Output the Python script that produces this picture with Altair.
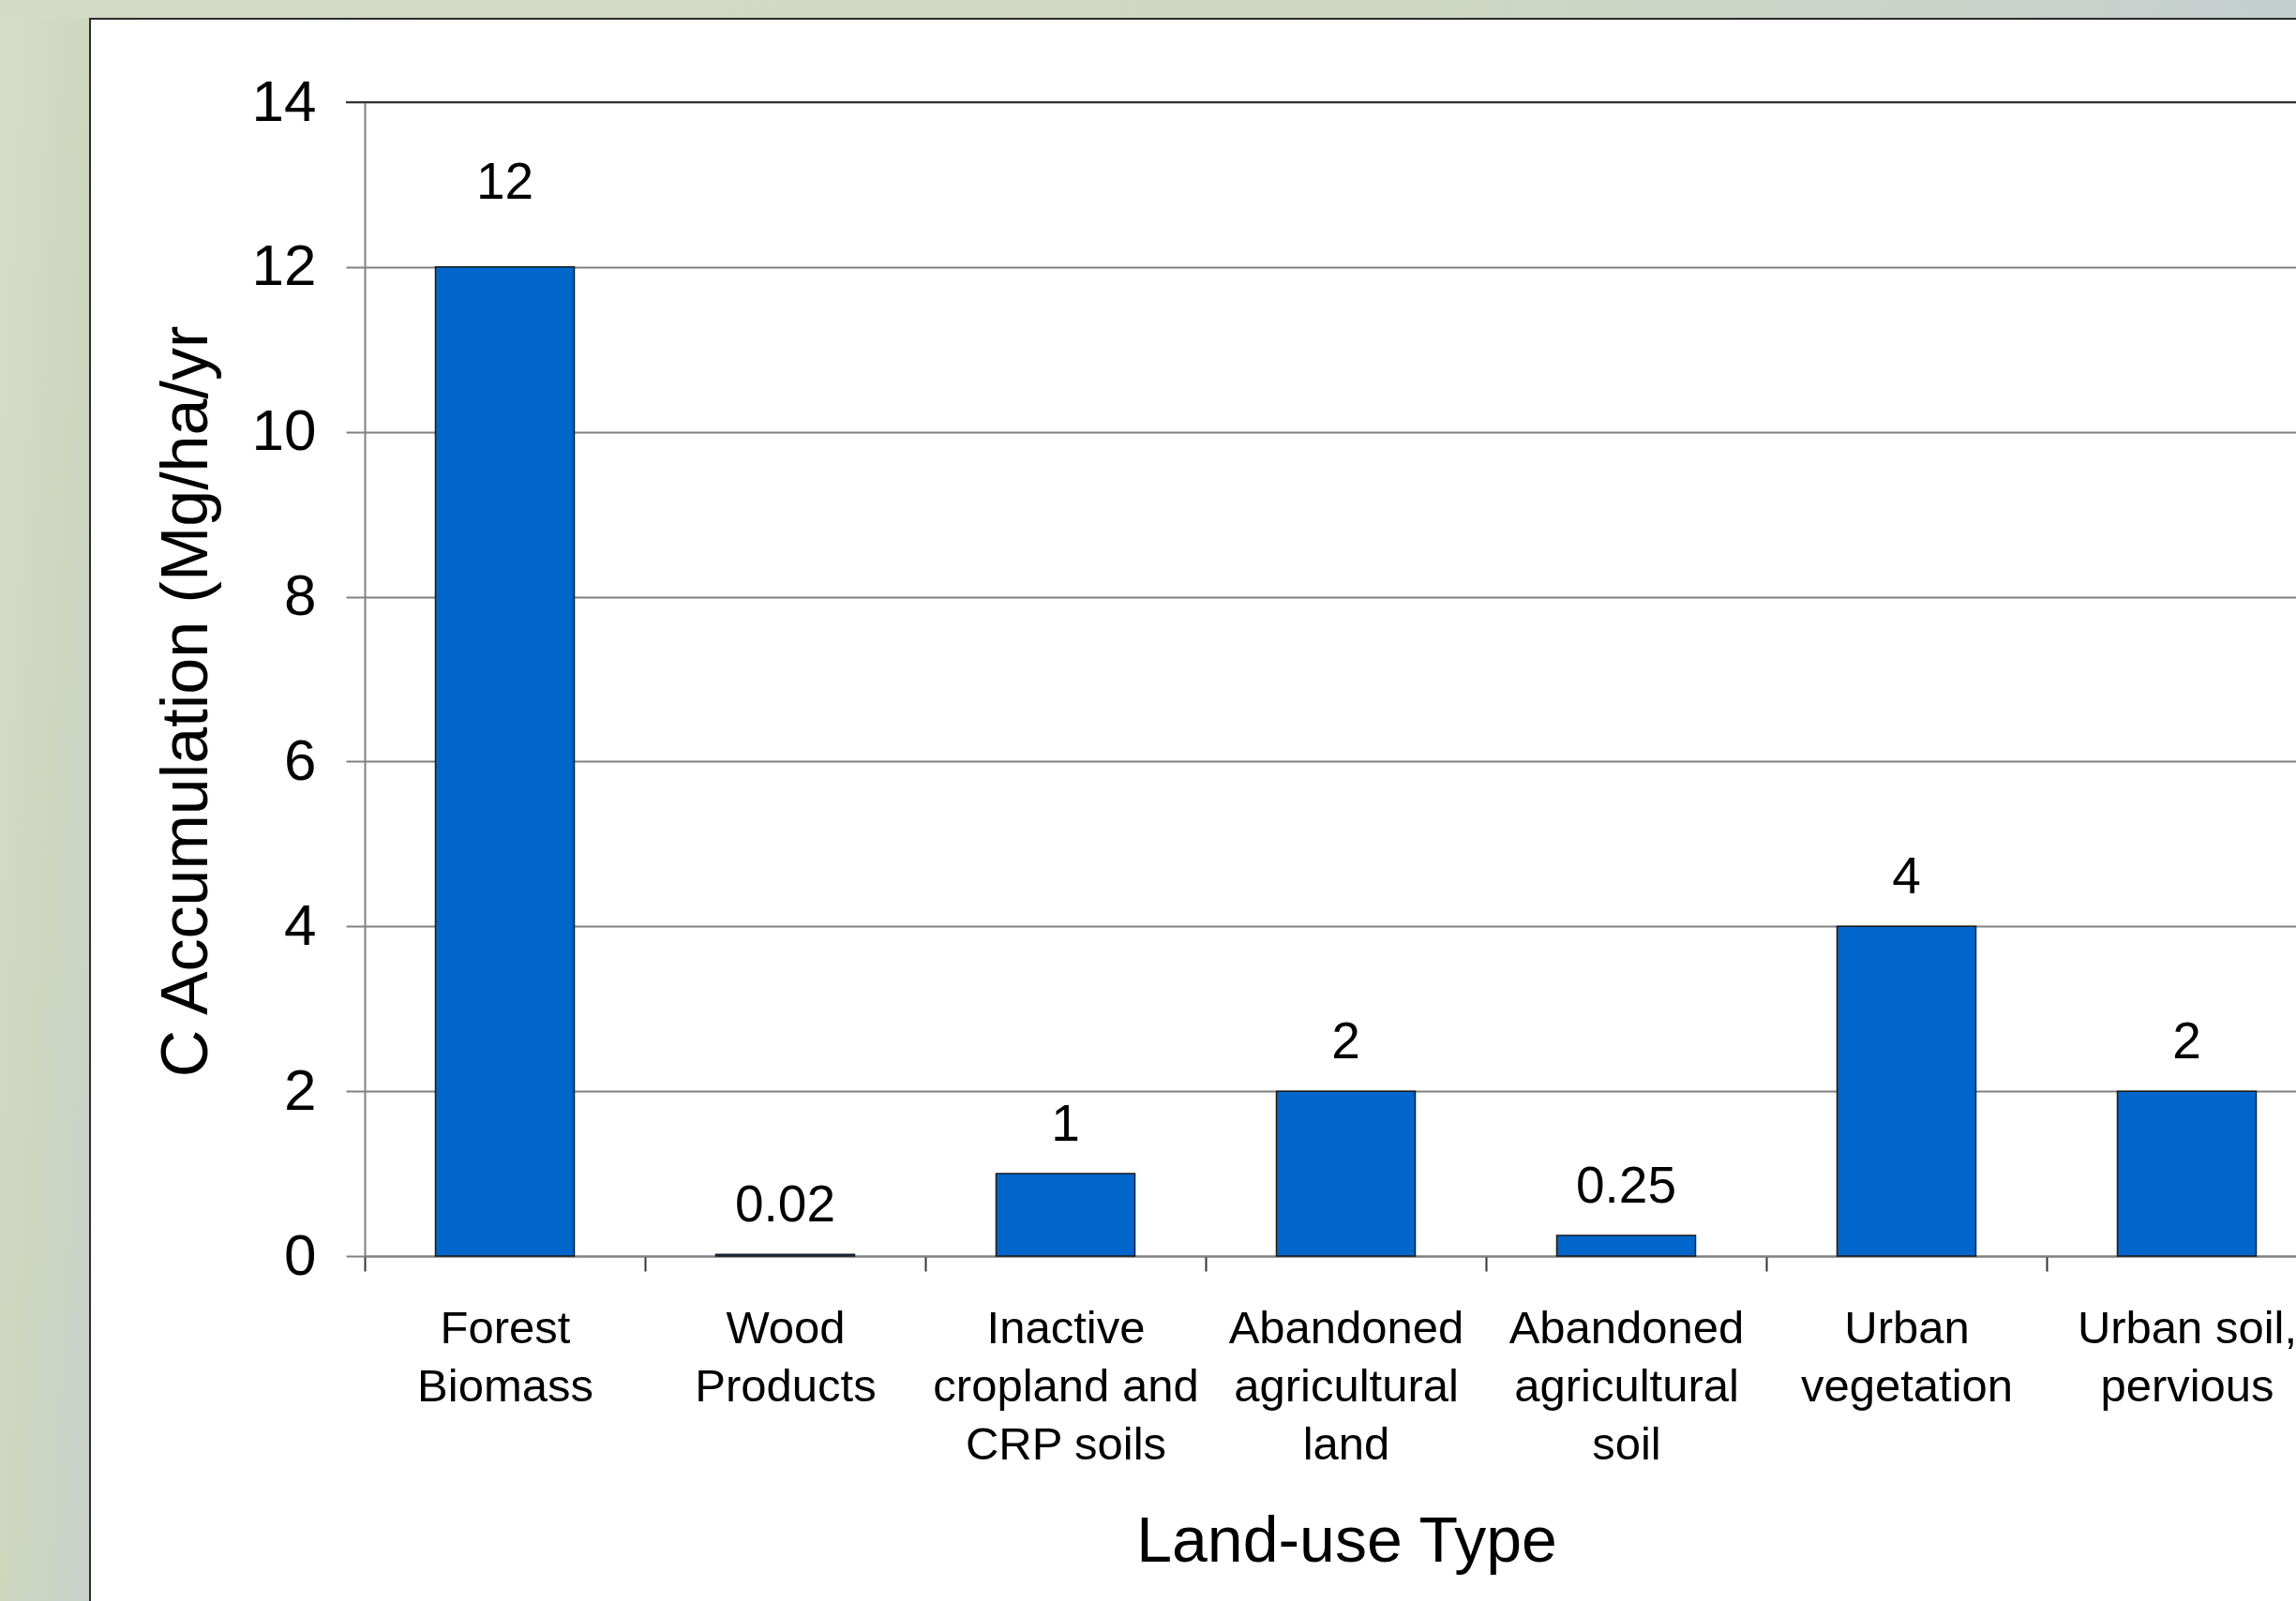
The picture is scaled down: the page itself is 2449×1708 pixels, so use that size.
import altair as alt
import pandas as pd

# Carbon accumulation rate by land-use type (Mg C / ha / yr)
categories = [
    "Forest\nBiomass",
    "Wood\nProducts",
    "Inactive\ncropland and\nCRP soils",
    "Abandoned\nagricultural\nland",
    "Abandoned\nagricultural\nsoil",
    "Urban\nvegetation",
    "Urban soil,\npervious",
]
rates = [12, 0.02, 1, 2, 0.25, 4, 2]
rate_labels = ["12", "0.02", "1", "2", "0.25", "4", "2"]
y_ticks = [0, 2, 4, 6, 8, 10, 12, 14]

df = pd.DataFrame({"land_use": categories, "rate": rates, "label": rate_labels})

FONT = "Liberation Sans"
W, H = 2060, 1231
PAD_L, PAD_T, PAD_B = 389, 109, 368
BAND_RANGE = 2093  # band scale runs past the right edge of the canvas

x_enc = alt.X(
    "land_use:N",
    sort=categories,
    scale=alt.Scale(range=[0, BAND_RANGE], paddingInner=0, paddingOuter=0),
    axis=alt.Axis(
        title="Land-use Type",
        labelExpr="split(datum.label, '\\n')",
        labelAngle=0,
        labelAlign="center",
        labelBaseline="top",
        labelFontSize=49,
        labelLineHeight=62,
        labelPadding=37,
        labelLimit=600,
        labelOverlap=False,
        tickBand="extent",
        tickSize=16,
        tickColor="#333333",
        grid=False,
        titleFontSize=68,
        titleX=1047,
        titleY=325,
        titleAlign="center",
        titleBaseline="alphabetic",
    ),
)

y_enc = alt.Y(
    "rate:Q",
    scale=alt.Scale(domain=[0, 14], nice=False),
    axis=alt.Axis(
        title="C Accumulation (Mg/ha/yr",
        values=y_ticks,
        format="d",
        labelFontSize=62,
        labelPadding=32,
        tickSize=20,
        tickColor="#808080",
        grid=True,
        titleFontSize=70,
        titleAngle=-90,
        titleX=-169,
        titleY=639,
        titleAlign="center",
        titleBaseline="alphabetic",
    ),
)

bars = alt.Chart(df).mark_bar(
    color="#0066CC", stroke="#1a1a1a", strokeWidth=1.5,
    width=alt.RelativeBandSize(0.495),
).encode(x=x_enc, y=y_enc)

text_x = alt.X("land_use:N", sort=categories)

# value labels above the bars; the tallest bar's label sits a little higher
bar_text = alt.Chart(df).transform_filter("datum.rate < 10").mark_text(
    dy=-35, baseline="alphabetic", fontSize=55, font=FONT, color="black"
).encode(x=text_x, y="rate:Q", text="label:N")

bar_text_tall = alt.Chart(df).transform_filter("datum.rate >= 10").mark_text(
    dy=-73, baseline="alphabetic", fontSize=55, font=FONT, color="black"
).encode(x=text_x, y="rate:Q", text="label:N")

one = alt.Data(values=[{}])

# darker top line of the plot area at the axis maximum
top_line = alt.Chart(one).mark_rule(color="#333333", strokeWidth=2).encode(
    y=alt.datum(14), x=alt.value(-20), x2=alt.value(W)
)

# slide backdrop around the white chart panel
backdrop = {
    "gradient": "linear",
    "x1": 0, "y1": 0, "x2": 1, "y2": 1,
    "stops": [
        {"offset": 0, "color": "#d6ddc6"},
        {"offset": 0.5, "color": "#cfd7bf"},
        {"offset": 1, "color": "#c8d0cb"},
    ],
}
left_strip = alt.Chart(one).mark_rect(fill=backdrop, strokeWidth=0).encode(
    x=alt.value(-PAD_L), x2=alt.value(95 - PAD_L),
    y=alt.value(-PAD_T), y2=alt.value(H + PAD_B),
)
top_strip = alt.Chart(one).mark_rect(
    fill={
        "gradient": "linear",
        "x1": 0, "y1": 0, "x2": 1, "y2": 0,
        "stops": [
            {"offset": 0, "color": "#d4dbc4"},
            {"offset": 0.6, "color": "#d0d8c2"},
            {"offset": 1, "color": "#c5cfcf"},
        ],
    },
    strokeWidth=0,
).encode(
    x=alt.value(-PAD_L), x2=alt.value(W + 10),
    y=alt.value(-PAD_T), y2=alt.value(19 - PAD_T),
)
panel_left = alt.Chart(one).mark_rule(color="#2b2b2b", strokeWidth=2).encode(
    x=alt.value(96 - PAD_L), y=alt.value(19 - PAD_T), y2=alt.value(H + PAD_B)
)
panel_top = alt.Chart(one).mark_rule(color="#2b2b2b", strokeWidth=2).encode(
    x=alt.value(96 - PAD_L), x2=alt.value(W + 10), y=alt.value(20 - PAD_T)
)

chart = (
    alt.layer(left_strip, top_strip, panel_left, panel_top, bars, top_line,
              bar_text, bar_text_tall)
    .properties(
        width=W,
        height=H,
        padding={"left": PAD_L, "top": PAD_T, "right": 0, "bottom": PAD_B},
        autosize=alt.AutoSizeParams(type="none"),
    )
    .configure(background="white")
    .configure_view(stroke=None)
    .configure_axis(
        labelFont=FONT,
        titleFont=FONT,
        labelColor="black",
        titleColor="black",
        titleFontWeight="normal",
        domainColor="#808080",
        domainWidth=2,
        gridColor="#808080",
        gridWidth=2,
        tickWidth=2,
    )
)

chart.save("out.html", embed_options={"renderer": "svg", "actions": False})
